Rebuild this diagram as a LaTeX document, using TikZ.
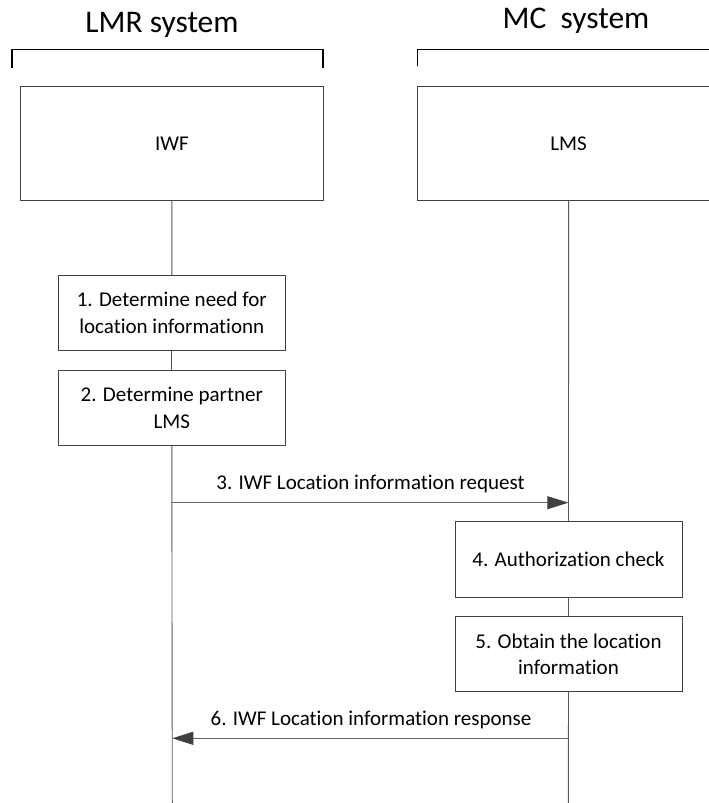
\documentclass[tikz,border=0pt]{standalone}
\usepackage{fontspec}
\setmainfont[Ligatures=NoCommon]{Carlito}
\usetikzlibrary{arrows.meta}
\begin{document}
\begin{tikzpicture}[x=1pt,y=-1pt,
  box/.style={draw=black!75, line width=0.9pt, fill=white, inner sep=0pt, align=center, font=\fontsize{21}{26.5}\selectfont},
  life/.style={draw=black!65, line width=0.9pt},
  msg/.style={draw=black!60, line width=0.9pt, -{Triangle[length=21pt,width=13pt,color=black!75,fill=black!75]}},
  lbl/.style={inner sep=0pt, font=\fontsize{21}{26}\selectfont},
  hdr/.style={inner sep=0pt, font=\fontsize{31.5}{36}\selectfont},
  brk/.style={draw=black, line width=1.8pt}]
\useasboundingbox (0,0) rectangle (709,803);

% headers
\node[hdr] (hlmr) at (162,25) {LMR system};
\node[hdr] (hmc) at (576,21) {MC\ \ system};
\coordinate (b1a) at (12,68);
\coordinate (b1b) at (12,49.5);
\coordinate (b1c) at (323,49.5);
\coordinate (b1d) at (323,68);
\draw[brk] (b1a) -- (b1b) -- (b1c) -- (b1d);
\coordinate (b2a) at (417.5,66);
\coordinate (b2b) at (417.5,49.5);
\coordinate (b2c) at (730,49.5);
\draw[brk] (b2a) -- (b2b) -- (b2c);

% entities
\node[box, minimum width=302.3pt, minimum height=113.3pt] (iwf) at (171.9,143.3) {IWF};
\node[box, minimum width=302.3pt, minimum height=113.3pt] (lms) at (568.6,143.3) {LMS};

% steps
\node[box, minimum width=227pt, minimum height=75.4pt] (s1) at (171.8,313) {1. Determine need for\\location informationn};
\node[box, minimum width=227pt, minimum height=75.4pt] (s2) at (171.8,407.7) {2. Determine partner\\LMS};
\node[box, minimum width=227pt, minimum height=75.3pt] (s4) at (568.5,559.3) {4. Authorization check};
\node[box, minimum width=227pt, minimum height=75pt] (s5) at (568.5,654.2) {5. Obtain the location\\information};

% lifelines
\coordinate (iwfend) at (172.3,803);
\coordinate (lmsend) at (568.3,803);
\draw[life] (iwf.south) -- (s1.north);
\draw[life] (s1.south) -- (s2.north);
\draw[life] (s2.south) -- (iwfend);
\draw[life] (lms.south) -- (s4.north);
\draw[life] (s4.south) -- (s5.north);
\draw[life] (s5.south) -- (lmsend);

% messages
\coordinate (m3a) at (172.3,502.7);
\coordinate (m3b) at (568.3,502.7);
\draw[msg] (m3a) -- (m3b);
\node[lbl] (l3) at (370.5,484) {3. IWF Location information request};

\coordinate (m6a) at (568.3,738.3);
\coordinate (m6b) at (172.3,738.3);
\draw[msg] (m6a) -- (m6b);
\node[lbl] (l6) at (371,720) {6. IWF Location information response};
\end{tikzpicture}
\end{document}
